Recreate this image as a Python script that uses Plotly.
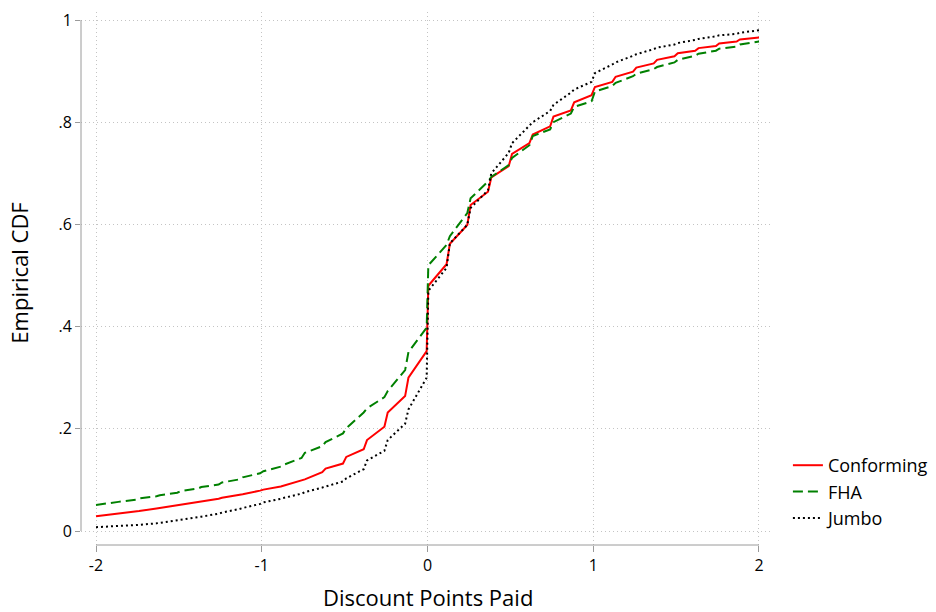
import plotly.graph_objects as go

# Shared evaluation grid (discount points)
x_points = [
    -2.0,
    -1.885, -1.865, -1.76, -1.74, -1.635, -1.615, -1.51, -1.49,
    -1.385, -1.365, -1.26, -1.24, -1.135, -1.115, -1.01, -0.99,
    -0.885, -0.865, -0.76, -0.74, -0.635, -0.615, -0.51, -0.49,
    -0.385, -0.365, -0.26, -0.24, -0.135, -0.115, -0.005, 0.005,
    0.115, 0.135, 0.24, 0.26, 0.365, 0.385, 0.49, 0.51,
    0.615, 0.635, 0.74, 0.76, 0.865, 0.885, 0.99, 1.01,
    1.115, 1.135, 1.24, 1.26, 1.365, 1.385, 1.49, 1.51,
    1.615, 1.635, 1.74, 1.76, 1.865, 1.885,
    2.0,
]

conforming = [
    0.029,
    0.033, 0.034, 0.038, 0.039, 0.044, 0.045, 0.050, 0.052,
    0.056, 0.057, 0.063, 0.065, 0.070, 0.072, 0.079, 0.081,
    0.087, 0.089, 0.098, 0.101, 0.115, 0.122, 0.132, 0.145,
    0.160, 0.178, 0.204, 0.232, 0.264, 0.300, 0.352, 0.480,
    0.522, 0.562, 0.599, 0.638, 0.664, 0.692, 0.714, 0.738,
    0.759, 0.776, 0.792, 0.811, 0.823, 0.839, 0.853, 0.869,
    0.879, 0.889, 0.899, 0.907, 0.915, 0.922, 0.929, 0.935,
    0.940, 0.945, 0.949, 0.954, 0.958, 0.962,
    0.966,
]

fha = [
    0.051,
    0.055, 0.057, 0.061, 0.064, 0.068, 0.070, 0.075, 0.078,
    0.083, 0.086, 0.091, 0.095, 0.101, 0.105, 0.113, 0.117,
    0.126, 0.130, 0.143, 0.153, 0.166, 0.174, 0.191, 0.201,
    0.232, 0.240, 0.262, 0.274, 0.315, 0.350, 0.398, 0.520,
    0.560, 0.577, 0.622, 0.651, 0.684, 0.693, 0.716, 0.730,
    0.755, 0.773, 0.786, 0.800, 0.817, 0.830, 0.841, 0.860,
    0.871, 0.877, 0.890, 0.895, 0.904, 0.908, 0.917, 0.922,
    0.930, 0.934, 0.940, 0.944, 0.948, 0.952,
    0.958,
]

jumbo = [
    0.0075,
    0.009, 0.0095, 0.011, 0.012, 0.015, 0.016, 0.020, 0.022,
    0.027, 0.028, 0.034, 0.036, 0.043, 0.045, 0.053, 0.056,
    0.063, 0.065, 0.073, 0.076, 0.085, 0.087, 0.097, 0.103,
    0.121, 0.138, 0.157, 0.178, 0.210, 0.238, 0.300, 0.470,
    0.515, 0.563, 0.599, 0.632, 0.667, 0.700, 0.740, 0.759,
    0.792, 0.800, 0.822, 0.834, 0.858, 0.864, 0.879, 0.896,
    0.913, 0.917, 0.930, 0.933, 0.943, 0.946, 0.952, 0.955,
    0.961, 0.963, 0.968, 0.970, 0.973, 0.975,
    0.980,
]

x_ticks = [-2, -1, 0, 1, 2]
x_tick_labels = ["-2", "-1", "0", "1", "2"]
y_ticks = [0, 0.2, 0.4, 0.6, 0.8, 1]
y_tick_labels = ["0", ".2", ".4", ".6", ".8", "1"]

FONT = "Open Sans, Noto Sans, DejaVu Sans, sans-serif"
AXIS_COLOR = "#9a9a9a"
GRID_COLOR = "#c4c4c4"

fig = go.Figure()
fig.add_trace(go.Scatter(x=x_points, y=conforming, mode="lines", name="Conforming",
                         line=dict(color="#ff0000", width=2)))
fig.add_trace(go.Scatter(x=x_points, y=fha, mode="lines", name="FHA",
                         line=dict(color="#008000", width=2, dash="10px,5px")))
fig.add_trace(go.Scatter(x=x_points, y=jumbo, mode="lines", name="Jumbo",
                         line=dict(color="#000000", width=2, dash="2px,3px")))

# Offset axis lines (Stata style)
fig.add_shape(type="line", xref="paper", yref="y", x0=0, x1=0, y0=0, y1=1,
              line=dict(color=AXIS_COLOR, width=1))
fig.add_shape(type="line", xref="x", yref="paper", x0=-2, x1=2, y0=0, y1=0,
              line=dict(color=AXIS_COLOR, width=1))

# Axis titles as annotations (fixed positions)
fig.add_annotation(text="Empirical CDF", xref="paper", yref="paper",
                   x=-0.09, y=0.511, xanchor="center", yanchor="middle",
                   textangle=-90, showarrow=False, font=dict(size=22))
fig.add_annotation(text="Discount Points Paid", xref="paper", yref="paper",
                   x=0.5036, y=-0.0976, xanchor="center", yanchor="middle",
                   showarrow=False, font=dict(size=22))

fig.update_layout(
    width=936, height=612,
    margin=dict(l=81, r=166, t=12, b=67, autoexpand=False),
    paper_bgcolor="white", plot_bgcolor="white",
    font=dict(family=FONT, size=16, color="#000000"),
    showlegend=True,
    legend=dict(x=1.026, xanchor="left", y=0.015, yanchor="bottom",
                font=dict(family=FONT, size=18), bgcolor="rgba(0,0,0,0)",
                tracegroupgap=0),
    xaxis=dict(
        range=[-2.0905, 2.0664], tickmode="array", tickvals=x_ticks, ticktext=x_tick_labels,
        showgrid=True, gridcolor=GRID_COLOR, griddash="1px,3px", gridwidth=1,
        zeroline=False, showline=False, ticks="outside", ticklen=6, tickcolor=AXIS_COLOR,
        tickfont=dict(size=16), automargin=False,
    ),
    yaxis=dict(
        range=[-0.0274, 1.0157], tickmode="array", tickvals=y_ticks, ticktext=y_tick_labels,
        showgrid=True, gridcolor=GRID_COLOR, griddash="1px,3px", gridwidth=1,
        zeroline=False, showline=False, ticks="outside", ticklen=5, tickcolor=AXIS_COLOR,
        tickfont=dict(size=16), automargin=False,
    ),
)

fig.write_html("out.html",
               config={"displayModeBar": False},
               post_script="document.body.style.margin='0';document.body.style.overflow='hidden';")
